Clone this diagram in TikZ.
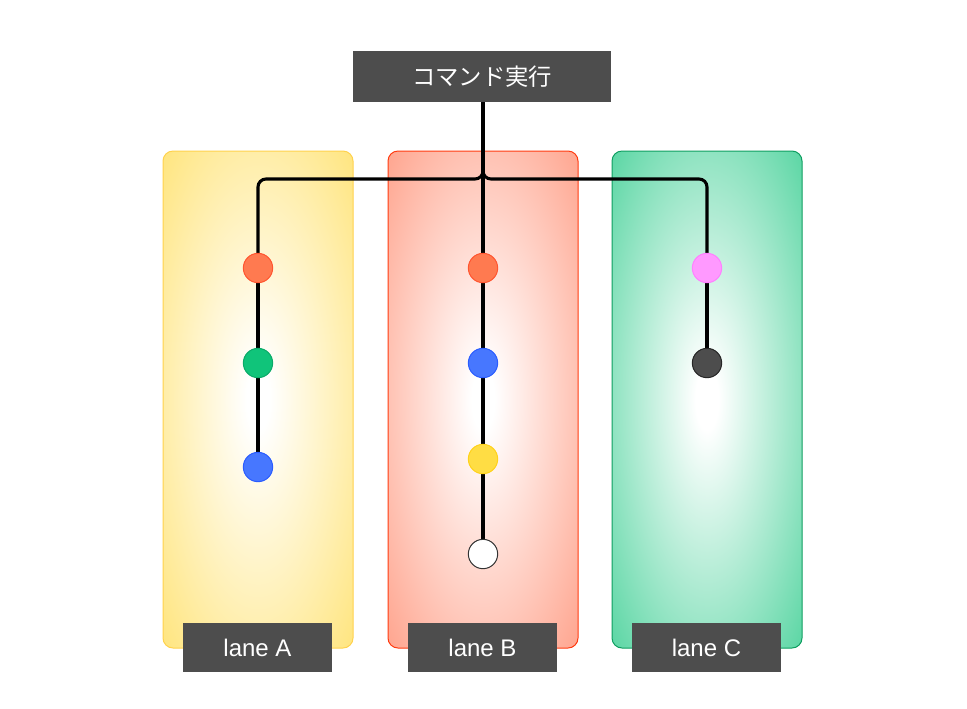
\documentclass[tikz,border=0pt]{standalone}
\usepackage{fontspec}
\setmainfont{Liberation Sans}
\newfontfamily\jpfont{Noto Sans CJK JP}
\definecolor{boxgray}{HTML}{4D4D4D}
\definecolor{laneAc}{HTML}{FFE57F}
\definecolor{laneAb}{HTML}{FFD24D}
\definecolor{laneBc}{HTML}{FFA58F}
\definecolor{laneBb}{HTML}{FF3B10}
\definecolor{laneCc}{HTML}{5BD6A4}
\definecolor{laneCb}{HTML}{0E9E60}
\definecolor{dotorange}{HTML}{FF7A50}
\definecolor{dotorangeb}{HTML}{FF5530}
\definecolor{dotgreen}{HTML}{10C47A}
\definecolor{dotgreenb}{HTML}{0BAA68}
\definecolor{dotblue}{HTML}{4777FF}
\definecolor{dotblueb}{HTML}{2A5CFF}
\definecolor{dotyellow}{HTML}{FFDD44}
\definecolor{dotyellowb}{HTML}{FFD21A}
\definecolor{dotpink}{HTML}{FF99FF}
\definecolor{dotpinkb}{HTML}{FF80FF}
\definecolor{dotdark}{HTML}{4D4D4D}
\pgfdeclareradialshading{shadeA}{\pgfpointorigin}{color(0bp)=(white); color(3bp)=(white); color(35.4bp)=(laneAc); color(50bp)=(laneAc)}
\pgfdeclareradialshading{shadeB}{\pgfpointorigin}{color(0bp)=(white); color(3bp)=(white); color(35.4bp)=(laneBc); color(50bp)=(laneBc)}
\pgfdeclareradialshading{shadeC}{\pgfpointorigin}{color(0bp)=(white); color(3bp)=(white); color(35.4bp)=(laneCc); color(50bp)=(laneCc)}
\begin{document}
\begin{tikzpicture}[x=0.75pt,y=-0.75pt,
  lanebox/.style={rounded corners=7.5pt, line width=0.75pt},
  labelbox/.style={fill=boxgray, draw=none, text=white, minimum width=111.75pt, minimum height=36.75pt, inner sep=0pt, font=\fontsize{18}{20}\selectfont},
  dot/.style={circle, minimum size=22pt, inner sep=0pt, line width=0.75pt},
  conn/.style={draw=black, line width=2.3pt, rounded corners=6pt}]
\useasboundingbox (0,0) rectangle (967,708);
% lanes
\draw[lanebox, draw=laneAb, shading=shadeA] (163,151) rectangle (353,648);
\draw[lanebox, draw=laneBb, shading=shadeB] (388,151) rectangle (578,648);
\draw[lanebox, draw=laneCb, shading=shadeC] (612,151) rectangle (802,648);
% title
\node[labelbox, minimum width=193.5pt, minimum height=38.25pt, font=\jpfont\fontsize{17.5}{20}\selectfont] (title) at (482,76.5) {コマンド実行};
\coordinate (top) at (483,102);
% dot positions (named) 
\node[dot] (a1) at (258,268) {};
\node[dot] (a2) at (258,363) {};
\node[dot] (a3) at (258,467) {};
\node[dot] (b1) at (483,268) {};
\node[dot] (b2) at (483,363) {};
\node[dot] (b3) at (483,459) {};
\node[dot] (b4) at (483,554) {};
\node[dot] (c1) at (707,268) {};
\node[dot] (c2) at (707,363) {};
% connectors
\draw[conn] (top) -- (483,179) -| (a1.north);
\draw[conn] (top) -- (483,179) -| (c1.north);
\draw[conn] (top) -- (b1.north);
\draw[conn] (a1) -- (a2) (a2) -- (a3);
\draw[conn] (b1) -- (b2) (b2) -- (b3) (b3) -- (b4);
\draw[conn] (c1) -- (c2);
% dots drawn over connectors
\node[dot, fill=dotorange, draw=dotorangeb] at (a1) {};
\node[dot, fill=dotgreen, draw=dotgreenb] at (a2) {};
\node[dot, fill=dotblue, draw=dotblueb] at (a3) {};
\node[dot, fill=dotorange, draw=dotorangeb] at (b1) {};
\node[dot, fill=dotblue, draw=dotblueb] at (b2) {};
\node[dot, fill=dotyellow, draw=dotyellowb] at (b3) {};
\node[dot, fill=white, draw=black!80] at (b4) {};
\node[dot, fill=dotpink, draw=dotpinkb] at (c1) {};
\node[dot, fill=dotdark, draw=black!85] at (c2) {};
% labels
\node[labelbox] (la) at (257.5,647.5) {lane A};
\node[labelbox] (lb) at (482.5,647.5) {lane B};
\node[labelbox] (lc) at (706.5,647.5) {lane C};
\end{tikzpicture}
\end{document}
